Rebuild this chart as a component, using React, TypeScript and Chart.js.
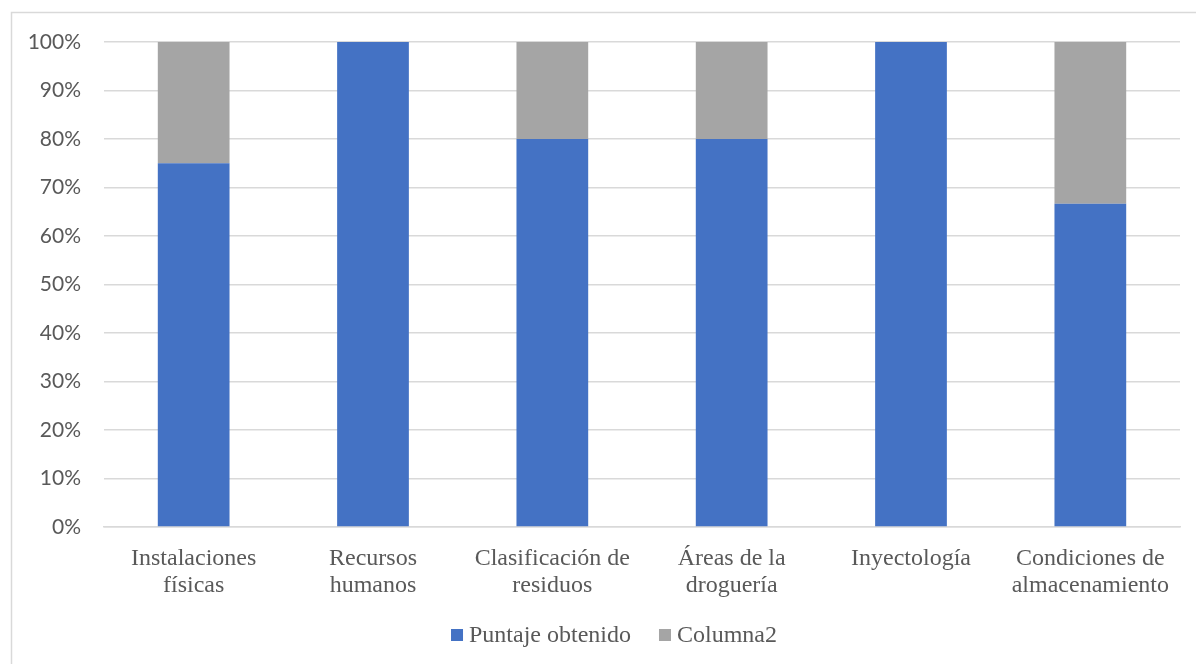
import React, { useEffect, useRef } from "react";
import { Chart, registerables } from "chart.js";

Chart.register(...registerables);

const categories: string[][] = [
  ["Instalaciones", "físicas"],
  ["Recursos", "humanos"],
  ["Clasificación de", "residuos"],
  ["Áreas de la", "droguería"],
  ["Inyectología"],
  ["Condiciones de", "almacenamiento"],
];
const puntajeObtenido = [75, 100, 80, 80, 100, 66.67];
const columna2 = [25, 0, 20, 20, 0, 33.33];
const seriesNames = ["Puntaje obtenido", "Columna2"];
const seriesColors = ["#4472C4", "#A5A5A5"];
const yTickMax = 100;
const yTickStep = 10;

const TEXT = "#595959";
const GRID = "#D9D9D9";

const framePlugin = {
  id: "frame",
  beforeDraw(chart: any) {
    const ctx = chart.ctx;
    ctx.save();
    ctx.fillStyle = "#ffffff";
    ctx.fillRect(0, 0, chart.width, chart.height);
    ctx.strokeStyle = GRID;
    ctx.lineWidth = 1.5;
    ctx.beginPath();
    ctx.moveTo(11.5, chart.height);
    ctx.lineTo(11.5, 12.5);
    ctx.lineTo(chart.width, 12.5);
    ctx.stroke();
    ctx.restore();
  },
};

const legendPlugin = {
  id: "customLegend",
  afterDraw(chart: any) {
    const ctx = chart.ctx;
    const fontSize = 24;
    const box = 12;
    const boxGap = 6;
    const itemGap = 28;
    const cx = 614;
    const cy = 635;
    ctx.save();
    ctx.font = `${fontSize}px "Liberation Serif", "Times New Roman", serif`;
    ctx.textBaseline = "middle";
    const items = chart.data.datasets.map((d: any) => ({
      text: d.label as string,
      color: d.backgroundColor as string,
      w: ctx.measureText(d.label).width,
    }));
    const total =
      items.reduce((s: number, it: any) => s + box + boxGap + it.w, 0) +
      itemGap * (items.length - 1);
    let x = cx - total / 2;
    for (const it of items) {
      ctx.fillStyle = it.color;
      ctx.fillRect(x, cy - box / 2, box, box);
      x += box + boxGap;
      ctx.fillStyle = TEXT;
      ctx.fillText(it.text, x, cy + 1);
      x += it.w + itemGap;
    }
    ctx.restore();
  },
};

export default function App() {
  const ref = useRef<HTMLCanvasElement | null>(null);
  useEffect(() => {
    if (!ref.current) return;
    const chart = new Chart(ref.current, {
      type: "bar",
      data: {
        labels: categories,
        datasets: [
          {
            label: seriesNames[0],
            data: puntajeObtenido,
            backgroundColor: seriesColors[0],
            barPercentage: 0.4,
            categoryPercentage: 1,
          },
          {
            label: seriesNames[1],
            data: columna2,
            backgroundColor: seriesColors[1],
            barPercentage: 0.4,
            categoryPercentage: 1,
          },
        ],
      },
      options: {
        responsive: false,
        animation: false,
        devicePixelRatio: 1,
        layout: { padding: { left: 12, right: 16, top: 42, bottom: 51 } },
        plugins: {
          legend: { display: false },
          tooltip: { enabled: false },
        },
        scales: {
          x: {
            stacked: true,
            grid: { display: false, drawTicks: false },
            border: { display: true, color: GRID, width: 1.5 },
            ticks: {
              color: TEXT,
              padding: 19,
              maxRotation: 0,
              autoSkip: false,
              font: { family: '"Liberation Serif", "Times New Roman", serif', size: 24, lineHeight: 1.1 },
            },
            afterFit(scale: any) {
              scale.height = 86;
            },
          },
          y: {
            stacked: true,
            min: 0,
            max: yTickMax,
            grid: { color: GRID, lineWidth: 1.5, drawTicks: false },
            border: { display: false },
            ticks: {
              stepSize: yTickStep,
              color: TEXT,
              padding: 23,
              font: { family: "Lato, 'Open Sans', sans-serif", size: 21 },
              callback: (v: any) => `${v}%`,
            },
            afterFit(scale: any) {
              scale.width = 92;
            },
          },
        },
      },
      plugins: [framePlugin, legendPlugin],
    });
    return () => chart.destroy();
  }, []);
  return (
    <canvas
      ref={ref}
      width={1196}
      height={664}
      style={{ position: "fixed", left: 0, top: 0, width: 1196, height: 664 }}
    />
  );
}
